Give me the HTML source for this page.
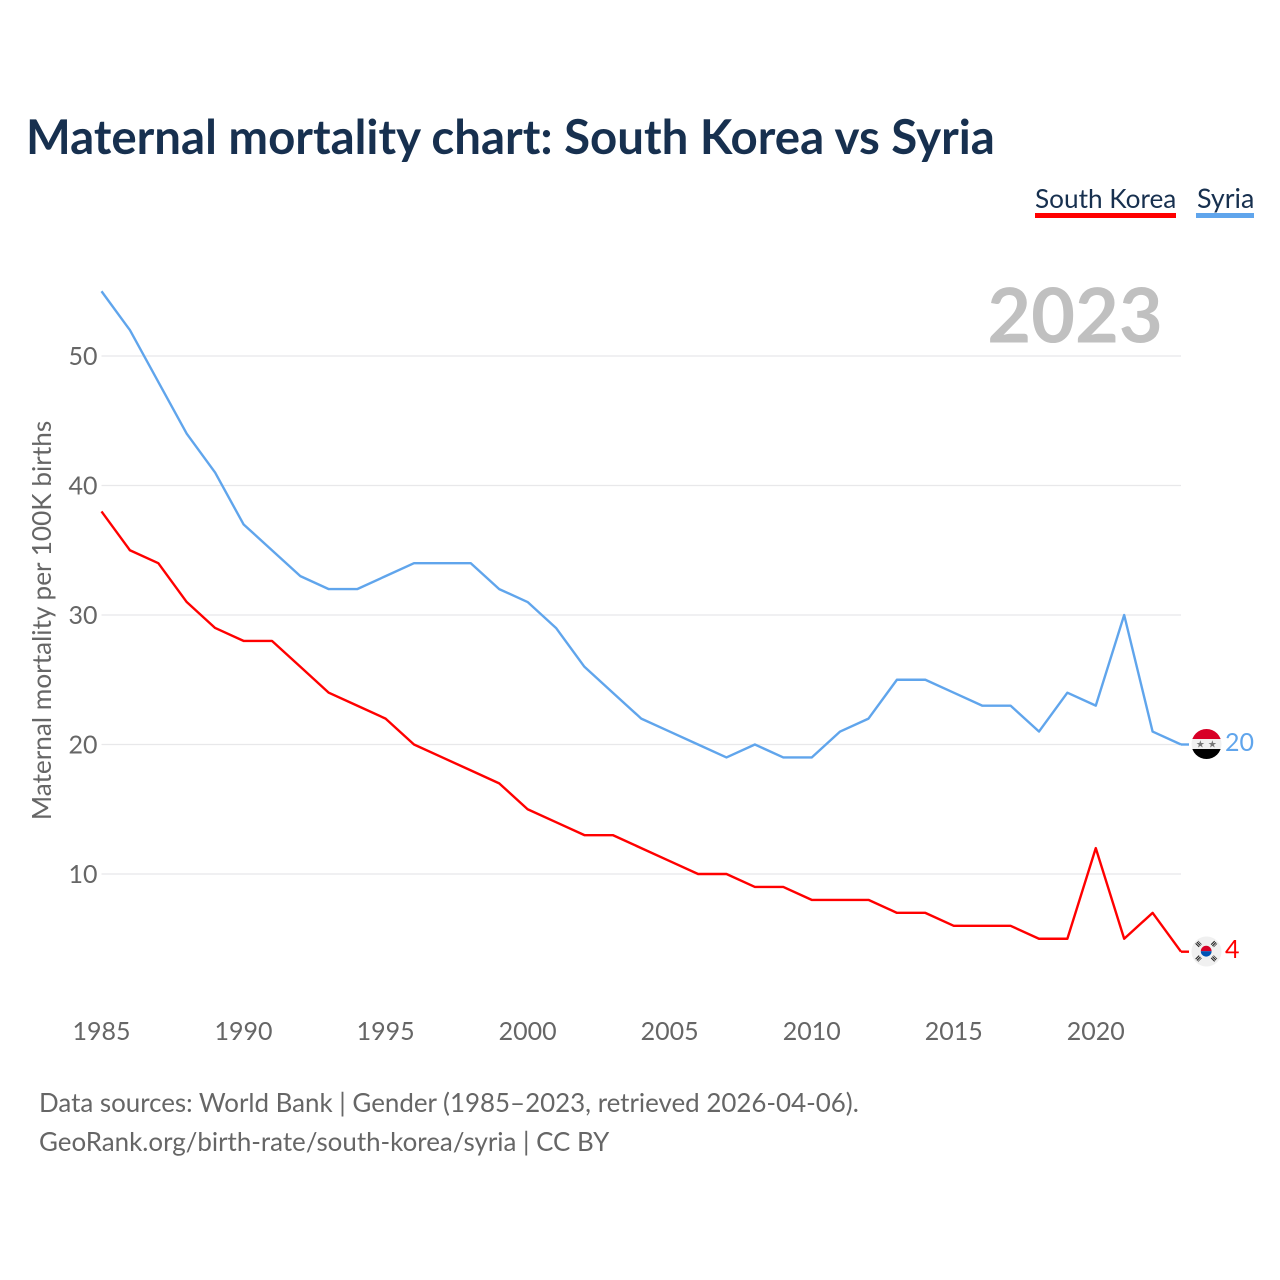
<!DOCTYPE html>
<html lang="en">
<head>
<meta charset="utf-8">
<title>Maternal mortality chart: South Korea vs Syria</title>
<style>
html,body{margin:0;padding:0;background:#fff;}
body{position:relative;width:1280px;height:1280px;overflow:hidden;}
svg{display:block;font-family:"Lato","Carlito","Liberation Sans",sans-serif;}
.t{position:absolute;white-space:nowrap;line-height:1.2;font-family:"Lato","Carlito","Liberation Sans",sans-serif;}
</style>
</head>
<body>
<svg id="chart" xmlns="http://www.w3.org/2000/svg" width="1280" height="1280" viewBox="0 0 1280 1280">
  <rect width="1280" height="1280" fill="#ffffff"/>

  <rect x="1035" y="213" width="141" height="5" fill="#ff0000"/>
  <rect x="1196" y="213" width="58" height="5" fill="#60a5ec"/>

  <text x="1075" y="342.5" font-size="75.7" font-weight="700" fill="#c0c0c0" text-anchor="middle">2023</text>

  <g id="grid"></g>
  <g id="yticks"></g>
  <g id="xticks"></g>

  <text transform="translate(51,620.5) rotate(-90)" font-size="26.2" fill="#666666" text-anchor="middle">Maternal mortality per 100K births</text>

  <g id="series"></g>

  <g id="flag-syria">
    <clipPath id="clip-sy"><circle cx="1206.5" cy="744" r="15"/></clipPath>
    <g clip-path="url(#clip-sy)">
      <rect x="1191" y="729" width="31" height="10" fill="#d80027"/>
      <rect x="1191" y="739" width="31" height="10" fill="#f0f0f0"/>
      <rect x="1191" y="749" width="31" height="10" fill="#000000"/>
    </g>
    <text x="1200.3" y="747.5" font-size="10" fill="#777" text-anchor="middle" font-family="DejaVu Sans, sans-serif">★</text>
    <text x="1212.3" y="747.5" font-size="10" fill="#777" text-anchor="middle" font-family="DejaVu Sans, sans-serif">★</text>
  </g>

  <g id="flag-korea">
    <circle cx="1206.5" cy="951.5" r="15" fill="#f0f0f0"/>
    <clipPath id="clip-kr"><circle cx="1206.2" cy="951.2" r="5.4"/></clipPath>
    <g clip-path="url(#clip-kr)">
      <rect x="1200" y="945" width="13" height="6.2" fill="#d80027"/>
      <rect x="1200" y="951.2" width="13" height="6.2" fill="#0052b4"/>
    </g>
    <g stroke="#222" stroke-width="5" stroke-dasharray="1.1 0.7" fill="none">
      <line x1="1197" y1="945.5" x2="1200" y2="942.5"/>
      <line x1="1212.5" y1="942.5" x2="1215.5" y2="945.5"/>
      <line x1="1197" y1="957" x2="1200" y2="960"/>
      <line x1="1212.5" y1="960" x2="1215.5" y2="957"/>
    </g>
  </g>

  <text id="end-syria" x="1225" y="751" font-size="25" fill="#60a5ec">20</text>
  <text id="end-korea" x="1225" y="958" font-size="25" fill="#ff0000">4</text>
</svg>

<div class="t" style="left:26px;top:109px;font-size:47.4px;font-weight:700;color:#17304f;">Maternal mortality chart: South Korea vs Syria</div>
<div class="t" style="left:1035px;top:183px;font-size:26.2px;color:#17304f;">South Korea</div>
<div class="t" style="left:1197px;top:182px;font-size:26.9px;color:#17304f;">Syria</div>
<div class="t" style="left:39px;top:1087px;font-size:25.92px;color:#666666;">Data sources: World Bank | Gender (1985–2023, retrieved 2026-04-06).</div>
<div class="t" style="left:39px;top:1126px;font-size:25.92px;color:#666666;">GeoRank.org/birth-rate/south-korea/syria | CC BY</div>

<script>
const years = [1985,1986,1987,1988,1989,1990,1991,1992,1993,1994,1995,1996,1997,1998,1999,2000,2001,2002,2003,2004,2005,2006,2007,2008,2009,2010,2011,2012,2013,2014,2015,2016,2017,2018,2019,2020,2021,2022,2023];
const syriaValues = [55,52,48,44,41,37,35,33,32,32,33,34,34,34,32,31,29,26,24,22,21,20,19,20,19,19,21,22,25,25,24,23,23,21,24,23,30,21,20];
const koreaValues = [38,35,34,31,29,28,28,26,24,23,22,20,19,18,17,15,14,13,13,12,11,10,10,9,9,8,8,8,7,7,6,6,6,5,5,12,5,7,4];
const yTickValues = [10,20,30,40,50];
const xTickValues = [1985,1990,1995,2000,2005,2010,2015,2020];

const NS = 'http://www.w3.org/2000/svg';
function xScale(year){ return 101.5 + (year - 1985) * (1181 - 101.5) / 38; }
function yScale(v){ return 1003.5 - v * 12.95; }
function make(tag, attrs, parent){
  const el = document.createElementNS(NS, tag);
  for (const k in attrs) el.setAttribute(k, attrs[k]);
  parent.appendChild(el);
  return el;
}
const grid = document.getElementById('grid');
const yticks = document.getElementById('yticks');
const xticks = document.getElementById('xticks');
const series = document.getElementById('series');

yTickValues.forEach(function(v){
  const line = make('line', {x1:101.5, x2:1181, y1:yScale(v), y2:yScale(v), stroke:'#e8e8ea', 'stroke-width':1.2}, grid);
  
  
  const t = make('text', {x:97.5, y:yScale(v) + 9, 'font-size':25, fill:'#666666', 'text-anchor':'end'}, yticks);
  
  
  t.textContent = v;
});
xTickValues.forEach(function(y){
  const t = make('text', {x:xScale(y), y:1040, 'font-size':25, fill:'#666666', 'text-anchor':'middle'}, xticks);
  
  
  t.textContent = y;
});
function points(vals){
  return vals.map(function(v, i){ return xScale(years[i]).toFixed(2) + ',' + yScale(v).toFixed(2); }).join(' ');
}
const syriaLine = make('polyline', {points:points(syriaValues), fill:'none', stroke:'#60a5ec', 'stroke-width':2.4, 'stroke-linejoin':'round'}, series);


const koreaLine = make('polyline', {points:points(koreaValues), fill:'none', stroke:'#ff0000', 'stroke-width':2.4, 'stroke-linejoin':'round'}, series);



const lastIndex = years.length - 1;
const syriaStub = make('line', {x1:xScale(years[lastIndex]), x2:1189, y1:yScale(syriaValues[lastIndex]), y2:yScale(syriaValues[lastIndex]), stroke:'#60a5ec', 'stroke-width':2.4}, series);


const koreaStub = make('line', {x1:xScale(years[lastIndex]), x2:1189, y1:yScale(koreaValues[lastIndex]), y2:yScale(koreaValues[lastIndex]), stroke:'#ff0000', 'stroke-width':2.4}, series);



document.getElementById('end-syria').textContent = syriaValues[lastIndex];
document.getElementById('end-korea').textContent = koreaValues[lastIndex];
</script>
</body>
</html>
